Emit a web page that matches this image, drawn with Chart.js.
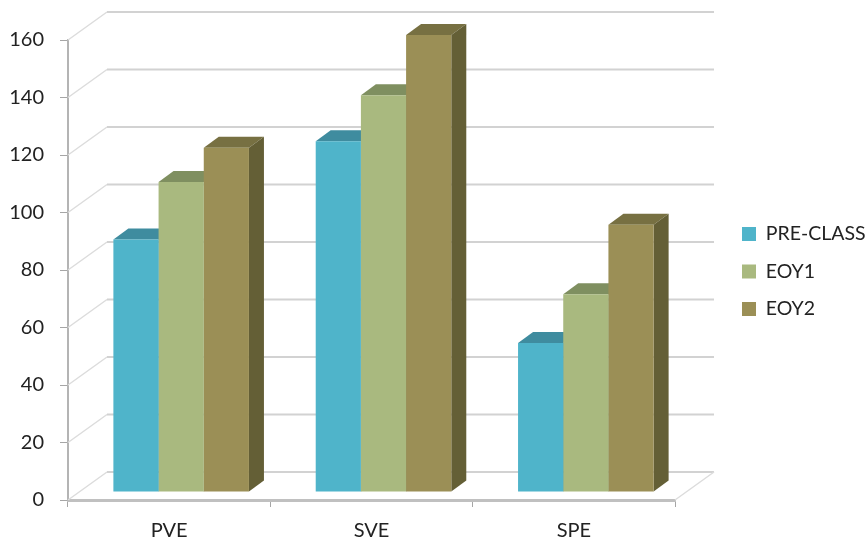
<!DOCTYPE html>
<html>
<head>
<meta charset="utf-8">
<title>Vocabulary scores</title>
<script src="https://cdn.jsdelivr.net/npm/chart.js@4"></script>
<style>
  html, body { margin: 0; padding: 0; background: #fff; }
  canvas { display: block; }
</style>
</head>
<body>
<canvas id="chart" width="868" height="545"></canvas>
<script>
const categories = ['PVE', 'SVE', 'SPE'];
const seriesNames = ['PRE-CLASS', 'EOY1', 'EOY2'];
const preClass = [87.8, 122, 51.8];
const eoy1 = [107.8, 138, 68.8];
const eoy2 = [119.7, 159, 93];

const frontColors = ['#4fb4ca', '#a9b97f', '#9b8f56'];
const topColors = ['#3f8c9f', '#7f8f60', '#777042'];
const sideColors = ['#357a8a', '#6e7c52', '#645f36'];

// fake 3D: how far the back wall sits from the front plane, and how deep a bar is
const WALL_DX = 39, WALL_DY = -28;
const BAR_DX = 15, BAR_DY = -11;
const BAR_SHIFT_X = 12, BAR_SHIFT_Y = -8;

function face(ctx, color, points) {
  ctx.fillStyle = color;
  ctx.beginPath();
  points.forEach((p, i) => i ? ctx.lineTo(p[0], p[1]) : ctx.moveTo(p[0], p[1]));
  ctx.closePath();
  ctx.fill();
}

const fake3d = {
  id: 'fake3d',
  beforeLayout(chart) {
    // keep the legend box a fixed width so the plot ends where the original does
    const legend = chart.legend;
    if (legend && !legend.fixedFit) {
      const fit = legend.fit;
      legend.fit = function () { fit.call(this); this.width = 193; };
      legend.fixedFit = true;
    }
  },
  afterLayout(chart) {
    const legend = chart.legend;
    legend.left = 742 - chart.options.plugins.legend.labels.padding;
    legend.top -= 21;
    legend.bottom -= 21;
  },
  beforeDatasetsDraw(chart) {
    const { ctx, chartArea, scales } = chart;
    const left = chartArea.left, right = chartArea.right;

    // back wall grid lines, one per y tick
    ctx.save();
    scales.y.ticks.forEach(t => {
      const y = scales.y.getPixelForValue(t.value);
      ctx.strokeStyle = '#dcdcdc';
      ctx.lineWidth = 1.5;
      ctx.beginPath();
      ctx.moveTo(left, y);
      ctx.lineTo(left + WALL_DX, y + WALL_DY);
      ctx.stroke();
      ctx.strokeStyle = '#d2d2d2';
      ctx.lineWidth = 2;
      ctx.beginPath();
      ctx.moveTo(left + WALL_DX, y + WALL_DY);
      ctx.lineTo(right + WALL_DX, y + WALL_DY);
      ctx.stroke();
    });
    // right edge of the floor
    const y0 = scales.y.getPixelForValue(0);
    ctx.strokeStyle = '#dcdcdc';
    ctx.lineWidth = 1.5;
    ctx.beginPath();
    ctx.moveTo(right, y0);
    ctx.lineTo(right + WALL_DX, y0 + WALL_DY);
    ctx.stroke();
    ctx.restore();

    // bars are pushed into the room, tops and sides go first so the fronts cover them
    ctx.save();
    ctx.translate(BAR_SHIFT_X, BAR_SHIFT_Y);
    chart.data.datasets.forEach((ds, i) => {
      chart.getDatasetMeta(i).data.forEach(bar => {
        const l = bar.x - bar.width / 2, r = bar.x + bar.width / 2;
        face(ctx, topColors[i], [[l, bar.y], [l + BAR_DX, bar.y + BAR_DY], [r + BAR_DX, bar.y + BAR_DY], [r, bar.y]]);
        face(ctx, sideColors[i], [[r, bar.y], [r + BAR_DX, bar.y + BAR_DY], [r + BAR_DX, bar.base + BAR_DY], [r, bar.base]]);
      });
    });
  },
  afterDatasetsDraw(chart) {
    chart.ctx.restore();
  }
};

new Chart(document.getElementById('chart'), {
  type: 'bar',
  data: {
    labels: categories,
    datasets: [
      { label: seriesNames[0], data: preClass, backgroundColor: frontColors[0] },
      { label: seriesNames[1], data: eoy1, backgroundColor: frontColors[1] },
      { label: seriesNames[2], data: eoy2, backgroundColor: frontColors[2] }
    ]
  },
  options: {
    responsive: false,
    animation: false,
    devicePixelRatio: 1,
    layout: { padding: { top: 40, right: 0, bottom: 0, left: 0 } },
    datasets: { bar: { categoryPercentage: 0.67, barPercentage: 1, borderWidth: 0 } },
    plugins: {
      tooltip: { enabled: false },
      legend: {
        position: 'right',
        labels: {
          boxWidth: 14,
          boxHeight: 14,
          padding: 18,
          color: '#222',
          font: { family: 'Lato', size: 19.5 }
        }
      }
    },
    scales: {
      x: {
        afterFit(scale) { scale.height = 45; },
        border: { color: '#c0c0c0', width: 3 },
        grid: { drawOnChartArea: false, drawTicks: true, tickLength: 7, color: '#a6a6a6', offset: true },
        ticks: { color: '#222', padding: 12, font: { family: 'Lato', size: 20 } }
      },
      y: {
        min: 0,
        max: 160,
        afterFit(scale) { scale.width = 68; },
        border: { color: '#b4b4b4', width: 2 },
        grid: { drawOnChartArea: false, drawTicks: true, tickLength: 8, color: '#a6a6a6' },
        ticks: { stepSize: 20, color: '#222', padding: 16, font: { family: 'Lato', size: 20 } }
      }
    }
  },
  plugins: [fake3d]
});
</script>
</body>
</html>
